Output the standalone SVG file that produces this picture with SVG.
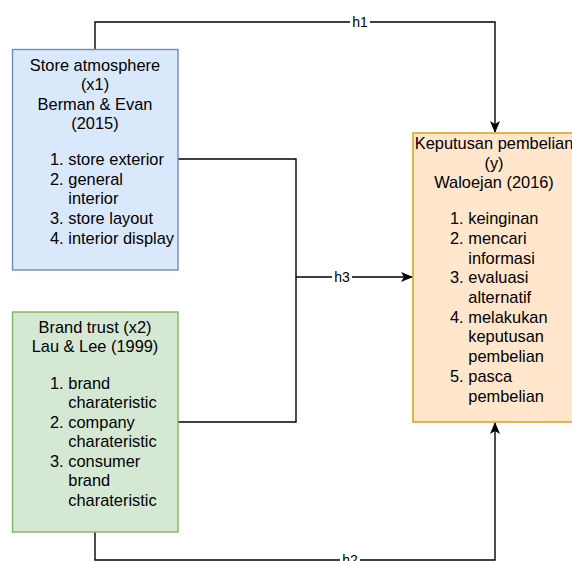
<svg xmlns="http://www.w3.org/2000/svg" width="572" height="561" viewBox="0 0 572 561">
<style>
text{font-family:"Liberation Sans",Arial,Helvetica,sans-serif;font-size:16.4px;fill:#000}
.c{text-anchor:middle}
.lbl{font-size:14px;text-anchor:middle}
.edge{fill:none;stroke:#000;stroke-width:1.4}
</style>
<defs>
<marker id="arr" viewBox="0 0 12 10" refX="11" refY="5" markerWidth="12" markerHeight="10" markerUnits="userSpaceOnUse" orient="auto">
<path d="M0,0 L12,5 L0,10 L3,5 Z" fill="#000"/>
</marker>
</defs>
<rect width="572" height="561" fill="#fff"/>
<g id="connectors">
<path class="edge" d="M95 49 V22 H495 V132" marker-end="url(#arr)"/>
<path class="edge" d="M95 532 V560 H495 V423" marker-end="url(#arr)"/>
<path class="edge" d="M178 159 H296 V277 H412" marker-end="url(#arr)"/>
<path class="edge" d="M178 422 H296 V277"/>
<rect x="350" y="13" width="20" height="18" fill="#fff"/>
<text class="lbl" x="360" y="27">h1</text>
<rect x="340" y="552" width="20" height="18" fill="#fff"/>
<text class="lbl" x="350" y="565">h2</text>
<rect x="332" y="268" width="20" height="18" fill="#fff"/>
<text class="lbl" x="342" y="282">h3</text>
</g>
<g id="node-x1">
<rect x="12.5" y="49.5" width="165.5" height="220.5" fill="#dae8fc" stroke="#6c8ebf" stroke-width="1.4"/>
<text class="c" x="95" y="71">Store atmosphere</text>
<text class="c" x="95" y="90">(x1)</text>
<text class="c" x="95" y="110">Berman &amp; Evan</text>
<text class="c" x="95" y="129">(2015)</text>
<text x="50" y="165">1.</text><text x="68.3" y="165">store exterior</text>
<text x="50" y="185">2.</text><text x="68.3" y="185">general</text>
<text x="68.3" y="204">interior</text>
<text x="50" y="224">3.</text><text x="68.3" y="224">store layout</text>
<text x="50" y="244">4.</text><text x="68.3" y="244">interior display</text>
</g>
<g id="node-x2">
<rect x="12.5" y="312" width="165.5" height="220" fill="#d5e8d4" stroke="#82b366" stroke-width="1.4"/>
<text class="c" x="95" y="332.5">Brand trust (x2)</text>
<text class="c" x="95" y="352">Lau &amp; Lee (1999)</text>
<text x="50" y="388.5">1.</text><text x="68.3" y="388.5">brand</text>
<text x="68.3" y="408">charateristic</text>
<text x="50" y="427.5">2.</text><text x="68.3" y="427.5">company</text>
<text x="68.3" y="447">charateristic</text>
<text x="50" y="466.5">3.</text><text x="68.3" y="466.5">consumer</text>
<text x="68.3" y="486">brand</text>
<text x="68.3" y="505.5">charateristic</text>
</g>
<g id="node-y">
<rect x="413" y="133" width="165" height="289" fill="#ffe6cc" stroke="#d79b00" stroke-width="1.4"/>
<text class="c" x="494" y="149">Keputusan pembelian</text>
<text class="c" x="494" y="168.5">(y)</text>
<text class="c" x="494" y="188">Waloejan (2016)</text>
<text x="450" y="224">1.</text><text x="468.3" y="224">keinginan</text>
<text x="450" y="244">2.</text><text x="468.3" y="244">mencari</text>
<text x="468.3" y="263.5">informasi</text>
<text x="450" y="283">3.</text><text x="468.3" y="283">evaluasi</text>
<text x="468.3" y="302.5">alternatif</text>
<text x="450" y="322.5">4.</text><text x="468.3" y="322.5">melakukan</text>
<text x="468.3" y="342">keputusan</text>
<text x="468.3" y="362">pembelian</text>
<text x="450" y="382">5.</text><text x="468.3" y="382">pasca</text>
<text x="468.3" y="402">pembelian</text>
</g>
</svg>
